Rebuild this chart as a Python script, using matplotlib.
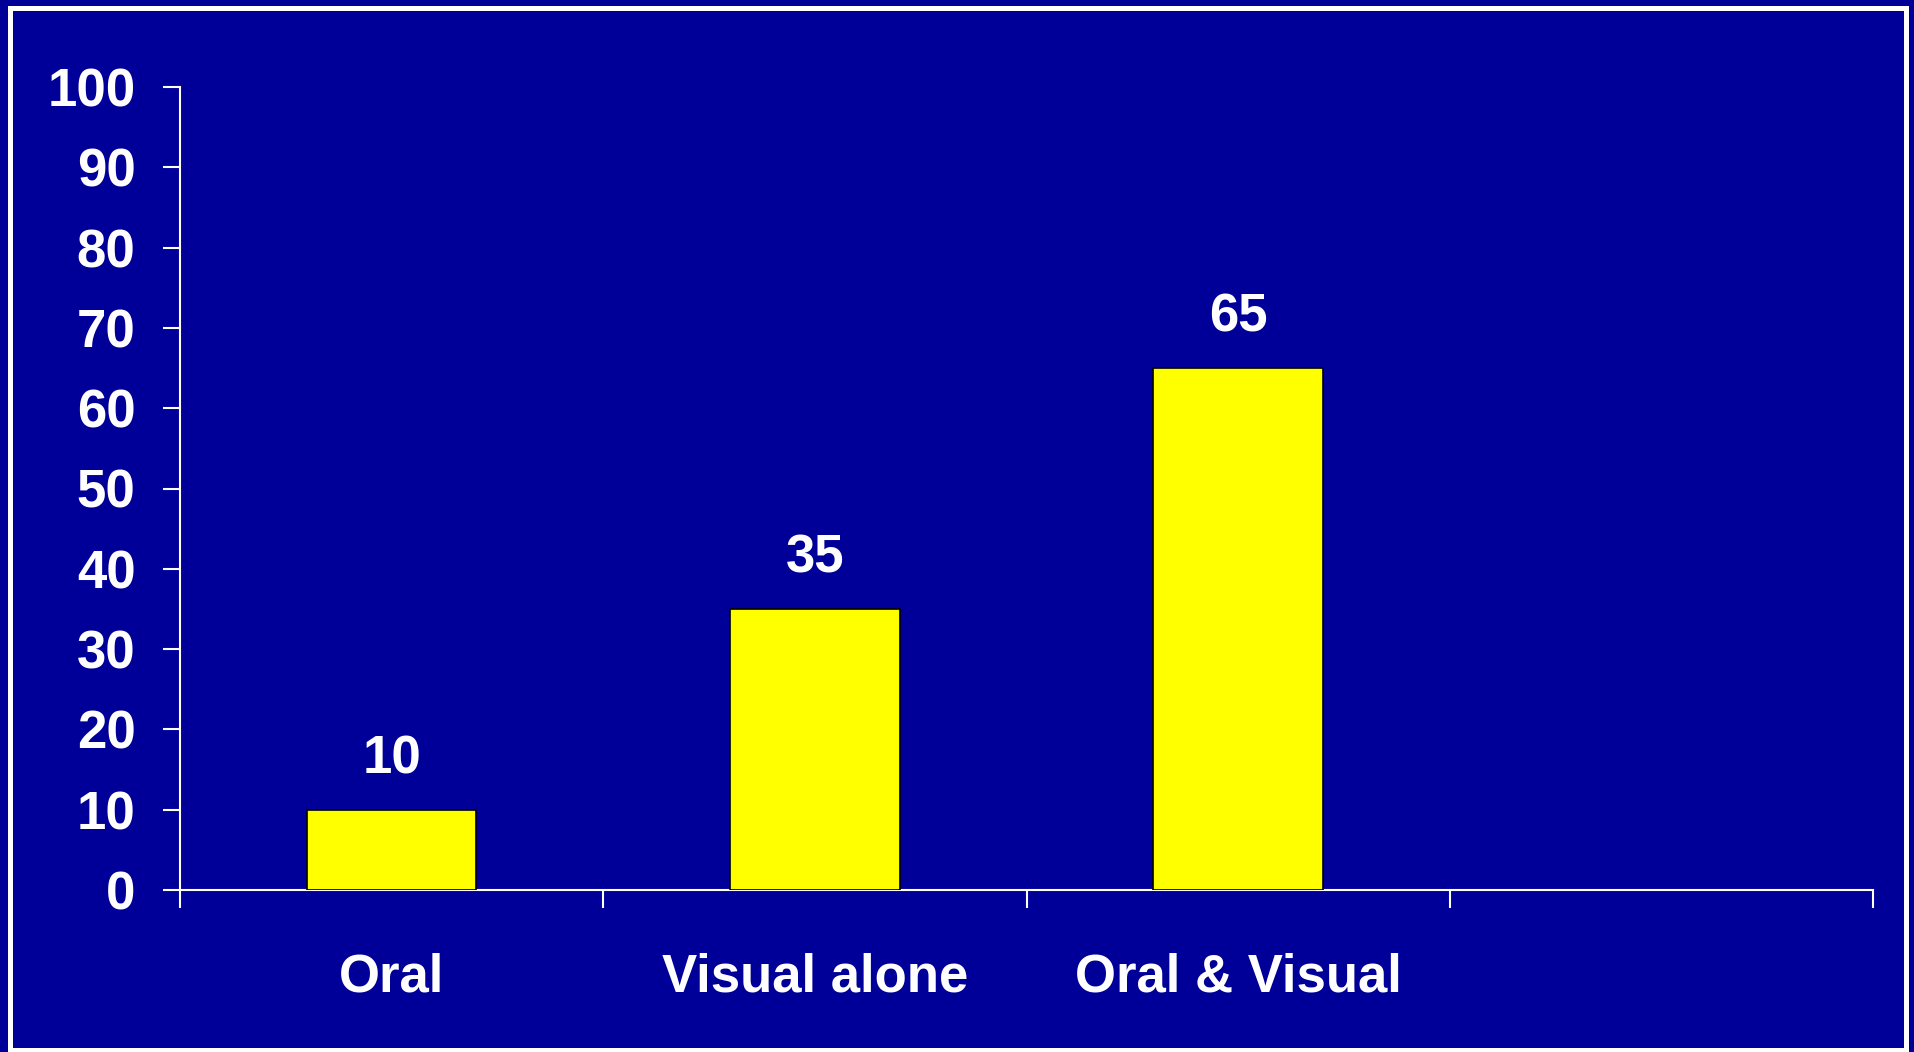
import matplotlib.pyplot as plt
from matplotlib.patches import Rectangle

categories = ['Oral', 'Visual alone', 'Oral & Visual']
values = [10, 35, 65]
n_slots = 4  # the axis leaves room for one more group on the right
y_ticks = list(range(0, 101, 10))

bg = '#000099'
bar_color = '#FFFF00'

plt.rcParams['font.family'] = ['Liberation Sans', 'DejaVu Sans']
plt.rcParams['font.weight'] = 'bold'

fig = plt.figure(figsize=(19.15, 10.52), dpi=100, facecolor=bg)
ax = fig.add_axes([180 / 1915, 162 / 1052, (1873 - 180) / 1915, (890 - 87) / 1052])
ax.set_facecolor(bg)

# white frame around the whole slide
fig.patches.append(Rectangle((10 / 1915, 2 / 1052), (1906 - 10) / 1915, (1044 - 2) / 1052,
                             transform=fig.transFigure, fill=False,
                             edgecolor='white', linewidth=3.6))

x = list(range(len(categories)))
bars = ax.bar(x, values, width=0.4, color=bar_color, edgecolor='black', linewidth=1.2, zorder=3)

for bar, v in zip(bars, values):
    ax.annotate(str(v), (bar.get_x() + bar.get_width() / 2, v),
                xytext=(0, 26), textcoords='offset points',
                ha='center', va='baseline', color='white',
                fontsize=38, fontweight='bold')

ax.set_xlim(-0.5, n_slots - 0.5)
ax.set_ylim(0, 100)
ax.set_yticks(y_ticks)
ax.set_yticklabels([str(t) for t in y_ticks])

# tick marks sit on group boundaries, labels in the middle of each group
ax.set_xticks([i - 0.5 for i in range(n_slots + 1)])
ax.set_xticklabels([])
ax.set_xticks(x, minor=True)
ax.set_xticklabels(categories, minor=True)

ax.tick_params(axis='y', colors='white', labelsize=38, length=12, width=1.5, pad=20)
ax.tick_params(axis='x', which='major', colors='white', length=13, width=1.5)
ax.tick_params(axis='x', which='minor', colors='white', labelsize=38, length=0, pad=45)

for lab in ax.get_yticklabels() + ax.get_xticklabels(minor=True):
    lab.set_fontweight('bold')

for side in ['top', 'right']:
    ax.spines[side].set_visible(False)
for side in ['left', 'bottom']:
    ax.spines[side].set_color('white')
    ax.spines[side].set_linewidth(1.5)

plt.savefig('out.png', dpi=100, facecolor=bg)
